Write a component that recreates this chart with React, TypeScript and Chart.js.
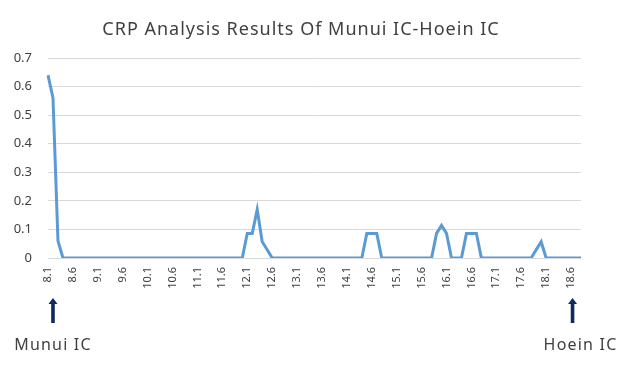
import React, { useEffect, useRef } from "react";
import { Chart, registerables } from "chart.js";

Chart.register(...registerables);

const chartTitle = "CRP Analysis Results Of Munui IC-Hoein IC";
const startLabel = "Munui IC";
const endLabel = "Hoein IC";

const categories = [
  "8.1", "8.2", "8.3", "8.4", "8.5", "8.6", "8.7", "8.8", "8.9", "9.0",
  "9.1", "9.2", "9.3", "9.4", "9.5", "9.6", "9.7", "9.8", "9.9", "10.0",
  "10.1", "10.2", "10.3", "10.4", "10.5", "10.6", "10.7", "10.8", "10.9", "11.0",
  "11.1", "11.2", "11.3", "11.4", "11.5", "11.6", "11.7", "11.8", "11.9", "12.0",
  "12.1", "12.2", "12.3", "12.4", "12.5", "12.6", "12.7", "12.8", "12.9", "13.0",
  "13.1", "13.2", "13.3", "13.4", "13.5", "13.6", "13.7", "13.8", "13.9", "14.0",
  "14.1", "14.2", "14.3", "14.4", "14.5", "14.6", "14.7", "14.8", "14.9", "15.0",
  "15.1", "15.2", "15.3", "15.4", "15.5", "15.6", "15.7", "15.8", "15.9", "16.0",
  "16.1", "16.2", "16.3", "16.4", "16.5", "16.6", "16.7", "16.8", "16.9", "17.0",
  "17.1", "17.2", "17.3", "17.4", "17.5", "17.6", "17.7", "17.8", "17.9", "18.0",
  "18.1", "18.2", "18.3", "18.4", "18.5", "18.6", "18.7", "18.8",
];

const crpValues = [
  0.64, 0.56, 0.06, 0, 0, 0, 0, 0, 0, 0,
  0, 0, 0, 0, 0, 0, 0, 0, 0, 0,
  0, 0, 0, 0, 0, 0, 0, 0, 0, 0,
  0, 0, 0, 0, 0, 0, 0, 0, 0, 0,
  0.086, 0.086, 0.17, 0.057, 0.029, 0, 0, 0, 0, 0,
  0, 0, 0, 0, 0, 0, 0, 0, 0, 0,
  0, 0, 0, 0, 0.086, 0.086, 0.086, 0, 0, 0,
  0, 0, 0, 0, 0, 0, 0, 0, 0.086, 0.114,
  0.086, 0, 0, 0, 0.086, 0.086, 0.086, 0, 0, 0,
  0, 0, 0, 0, 0, 0, 0, 0, 0.029, 0.057,
  0, 0, 0, 0, 0, 0, 0, 0,
];

const yTickValues = [0, 0.1, 0.2, 0.3, 0.4, 0.5, 0.6, 0.7];
const labelEvery = 5;
const startMarkerIndex = 1;
const endMarkerIndex = 105;

const FONT = '"Noto Sans", "Open Sans", sans-serif';

const overlayPlugin = {
  id: "overlay",
  afterDraw(chart: any) {
    const ctx = chart.ctx as any;
    const xScale = chart.scales.x;
    ctx.save();
    ctx.fillStyle = "#404040";
    ctx.font = `18px ${FONT}`;
    ctx.letterSpacing = "1px";
    ctx.textAlign = "center";
    ctx.textBaseline = "middle";
    ctx.fillText(chartTitle, 301, 30);

    const drawArrow = (cx: number) => {
      ctx.fillStyle = "#0f2a5c";
      ctx.beginPath();
      ctx.moveTo(cx, 298);
      ctx.lineTo(cx + 4.5, 304);
      ctx.lineTo(cx + 1.8, 304);
      ctx.lineTo(cx + 1.8, 323);
      ctx.lineTo(cx - 1.8, 323);
      ctx.lineTo(cx - 1.8, 304);
      ctx.lineTo(cx - 4.5, 304);
      ctx.closePath();
      ctx.fill();
    };
    const sx = xScale.getPixelForValue(startMarkerIndex);
    const ex = xScale.getPixelForValue(endMarkerIndex) + 1.5;
    drawArrow(sx);
    drawArrow(ex);

    ctx.fillStyle = "#404040";
    ctx.font = `16px ${FONT}`;
    ctx.letterSpacing = "1.2px";
    ctx.textAlign = "center";
    ctx.textBaseline = "middle";
    ctx.fillText(startLabel, sx, 345);
    ctx.fillText(endLabel, ex + 8, 345);
    ctx.restore();
  },
};

export default function App() {
  const canvasRef = useRef<HTMLCanvasElement | null>(null);

  useEffect(() => {
    if (!canvasRef.current) return;
    const chart = new Chart(canvasRef.current, {
      type: "line",
      data: {
        labels: categories,
        datasets: [
          {
            data: crpValues,
            borderColor: "#5b9bd5",
            borderWidth: 3,
            pointRadius: 0,
            tension: 0,
            fill: false,
          },
        ],
      },
      options: {
        animation: false,
        responsive: false,
        maintainAspectRatio: false,
        layout: { padding: { top: 58, right: 50, left: 0, bottom: 0 } },
        plugins: {
          legend: { display: false },
          title: { display: false },
          tooltip: { enabled: false },
        },
        scales: {
          x: {
            grid: { display: false, drawTicks: false },
            border: { display: false },
            afterFit: (scale: any) => {
              scale.height = 108;
            },
            ticks: {
              autoSkip: false,
              maxRotation: 90,
              minRotation: 90,
              padding: 9,
              color: "#404040",
              font: { family: FONT, size: 11 },
              callback: (_v: any, i: number) =>
                i % labelEvery === 0 ? categories[i] : "",
            },
          },
          y: {
            min: yTickValues[0],
            max: yTickValues[yTickValues.length - 1],
            afterFit: (scale: any) => {
              scale.width = 48;
            },
            afterBuildTicks: (scale: any) => {
              scale.ticks = yTickValues.map((v) => ({ value: v }));
            },
            grid: { color: "#d9d9d9", lineWidth: 1, drawTicks: false },
            border: { display: false },
            ticks: {
              padding: 16,
              color: "#404040",
              font: { family: FONT, size: 13 },
              callback: (v: any) => String(Math.round(Number(v) * 10) / 10),
            },
          },
        },
      },
      plugins: [overlayPlugin],
    });
    return () => chart.destroy();
  }, []);

  return (
    <div style={{ position: "fixed", left: 0, top: 0, width: 631, height: 366, background: "#fff" }}>
      <canvas ref={canvasRef} width={631} height={366} style={{ width: 631, height: 366, display: "block" }} />
    </div>
  );
}
